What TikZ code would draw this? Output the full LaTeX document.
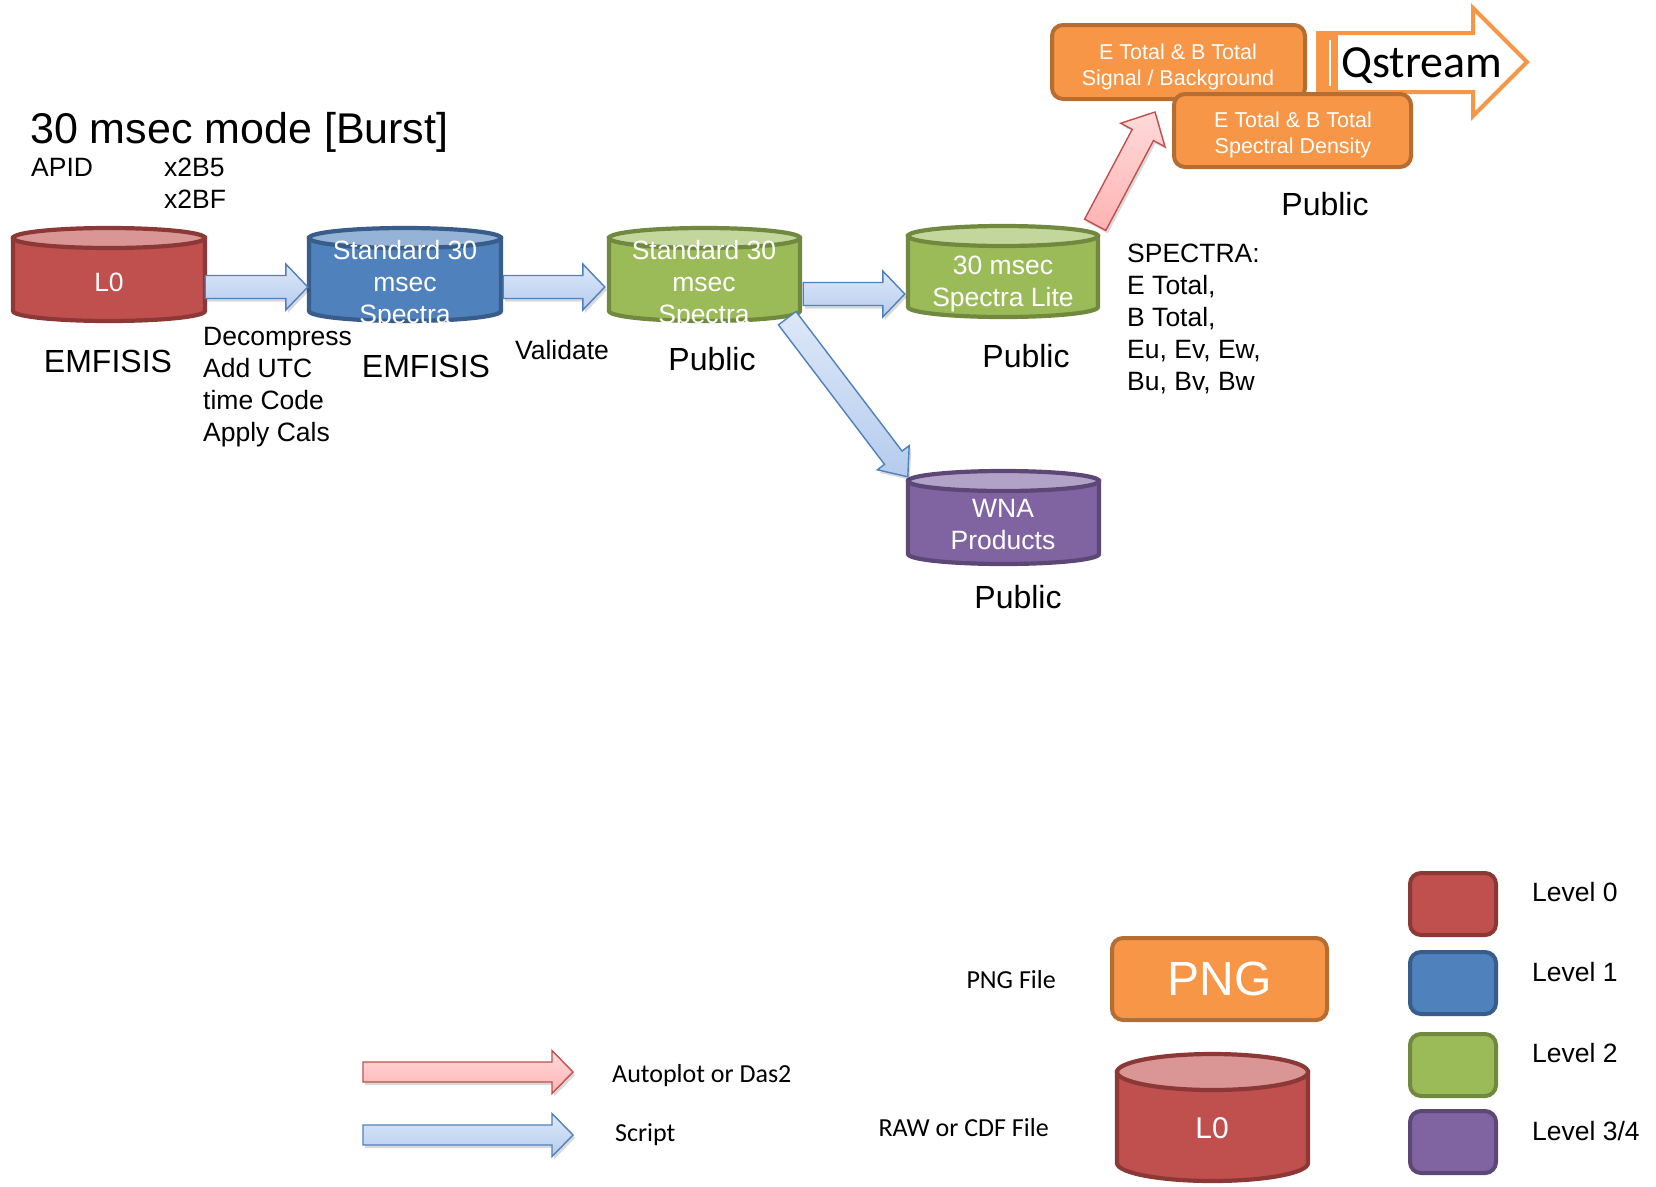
\documentclass[tikz,border=0pt]{standalone}
\usepackage{fontspec}
\setmainfont{Liberation Sans}
\newfontfamily\calfont{Carlito}
\usetikzlibrary{calc}

% level colours: fill (F), border (D), top face (T)
\definecolor{redF}{HTML}{C0504D}\definecolor{redD}{HTML}{8C3836}\definecolor{redT}{HTML}{D99694}
\definecolor{bluF}{HTML}{4F81BD}\definecolor{bluD}{HTML}{385D8A}\definecolor{bluT}{HTML}{95B3D7}
\definecolor{grnF}{HTML}{9BBB59}\definecolor{grnD}{HTML}{71893F}\definecolor{grnT}{HTML}{C3D69B}
\definecolor{purF}{HTML}{8064A2}\definecolor{purD}{HTML}{5C4776}\definecolor{purT}{HTML}{B3A2C7}
\definecolor{orgF}{HTML}{F79646}\definecolor{orgD}{HTML}{B66D31}
% arrow colours
\definecolor{sArrT}{HTML}{DDE8F8}\definecolor{sArrB}{HTML}{B5CCEE}\definecolor{sArrD}{HTML}{4F81BD}
\definecolor{pArrT}{HTML}{FFDADA}\definecolor{pArrB}{HTML}{FFB3B3}\definecolor{pArrD}{HTML}{C0504D}

% data store drawn as a cylinder: name, left, right, top, bottom, end radius, colour prefix
\newcommand{\drum}[7]{%
  \pgfmathsetmacro\dl{#2+2}\pgfmathsetmacro\dr{#3-2}%
  \pgfmathsetmacro\dt{#4+2+#6}\pgfmathsetmacro\db{#5-2-#6}%
  \pgfmathsetmacro\dcx{(#2+#3)/2}\pgfmathsetmacro\drx{(#3-#2)/2-2}%
  \filldraw[drumline, draw=#7D, fill=#7F] (\dl,\dt) -- (\dl,\db)
     arc[start angle=180, end angle=0, x radius=\drx, y radius=#6] -- (\dr,\dt) -- cycle;
  \filldraw[drumline, draw=#7D, fill=#7T] (\dcx,\dt) ellipse[x radius=\drx, y radius=#6];
  \node[inner sep=0pt, minimum width={#3-#2}, minimum height={#5-#4}] (#1) at (\dcx,{(#4+#5)/2}) {};
}

% block arrow between two named points: style, tail, tip, shaft half width, head half width, head length
\newcommand{\fatarrow}[6]{%
  \coordinate (fa-b) at ($(#3)!#6pt!(#2)$);
  \path[arrshadow] ($(#2)!#4pt!90:(#3)$) -- ($(fa-b)!#4pt!-90:(#2)$) -- ($(fa-b)!#5pt!-90:(#2)$) -- (#3)
     -- ($(fa-b)!#5pt!90:(#2)$) -- ($(fa-b)!#4pt!90:(#2)$) -- ($(#2)!#4pt!-90:(#3)$) -- cycle;
  \path[#1] ($(#2)!#4pt!90:(#3)$) -- ($(fa-b)!#4pt!-90:(#2)$) -- ($(fa-b)!#5pt!-90:(#2)$) -- (#3)
     -- ($(fa-b)!#5pt!90:(#2)$) -- ($(fa-b)!#4pt!90:(#2)$) -- ($(#2)!#4pt!-90:(#3)$) -- cycle;
}

\begin{document}
\begin{tikzpicture}[x=1pt, y=-1pt,
  drumline/.style={line width=4.2pt},
  txt/.style={inner sep=0pt, text=black},
  wtxt/.style={inner sep=0pt, text=white, align=center},
  ftitle/.style={font=\fontsize{43}{50}\selectfont},
  fbig/.style={font=\fontsize{32}{38}\selectfont},
  fmid/.style={font=\fontsize{26.5}{32}\selectfont},
  fbox/.style={font=\fontsize{21.5}{26}\selectfont},
  fcal/.style={font=\calfont\fontsize{26}{31}\selectfont},
  obox/.style={draw=orgD, fill=orgF, line width=4pt, rounded corners=11pt, inner sep=0pt},
  lvl/.style={line width=4pt, rounded corners=11pt, minimum width=86pt, minimum height=62pt, inner sep=0pt},
  arrshadow/.style={fill=black, opacity=0.15, transform canvas={shift={(2pt,-3pt)}}},
  scriptarr/.style={draw=sArrD, line width=1.4pt, top color=sArrT, bottom color=sArrB},
  plotarr/.style={draw=pArrD, line width=1.4pt, top color=pArrT, bottom color=pArrB}]

\useasboundingbox (0,0) rectangle (1656,1186);
\fill[white] (0,0) rectangle (1656,1186);

% heading
\node[txt, ftitle, anchor=base west] (title) at (30,143) {30 msec mode [Burst]};
\node[txt, fmid, anchor=west] (apid) at (31,167) {APID};
\node[txt, fmid, anchor=west, align=left] (apidv) at (164,183) {x2B5\\x2BF};

% data stores
\drum{l0}{11}{207}{226}{323}{10}{red}
\drum{b1}{307}{503}{226}{323}{10}{blu}
\drum{g1}{607}{802}{226}{323}{10}{grn}
\drum{g2}{906}{1100}{224}{319}{10}{grn}
\drum{wna}{906}{1101}{469}{566}{10}{pur}

\node[wtxt, fmid] (l0-t) at (109,282) {L0};
\node[wtxt, fmid] (b1-t) at (405,285) {Standard 30\\msec\\Spectra};
\node[wtxt, fmid] (g1-t) at (704,285) {Standard 30\\msec\\Spectra};
\node[wtxt, fmid] (g2-t) at (1003,284) {30 msec\\Spectra Lite};
\node[wtxt, fmid] (wna-t) at (1003,525) {WNA\\Products};

% labels under the stores and along the flow
\node[txt, fbig] (l0-lab) at (108,361) {EMFISIS};
\node[txt, fbig] (b1-lab) at (426,366) {EMFISIS};
\node[txt, fbig] (g1-lab) at (712,359) {Public};
\node[txt, fbig] (g2-lab) at (1026,356) {Public};
\node[txt, fbig] (wna-lab) at (1018,597) {Public};
\node[txt, fbig] (plot-lab) at (1325,204) {Public};
\node[txt, fmid, anchor=west, align=left] (proc1) at (203,387) {Decompress\\Add UTC\\time Code\\Apply Cals};
\node[txt, fmid] (proc2) at (562,350) {Validate};
\node[txt, fmid, anchor=west, align=left] (spec) at (1127,319) {SPECTRA:\\E Total,\\B Total,\\Eu, Ev, Ew,\\Bu, Bv, Bw};

% Qstream outline arrow
\path[draw=orgF, line width=4pt, fill=white] (1318,33) -- (1473,33) -- (1473,8) -- (1527,62)
   -- (1473,116) -- (1473,92) -- (1318,92) -- cycle;
\fill[orgF] (1318,31) rectangle (1338,92);
\draw[white, line width=1.2pt] (1330,40) -- (1330,86);
\node[txt, font=\calfont\fontsize{46}{54}\selectfont, anchor=base] (qs) at (1422,77) {Qstream};

% plot products
\node[obox, minimum width=253pt, minimum height=74pt] (sb) at (1178.5,62) {};
\node[wtxt, fbox] (sb-t) at (1178,67) {E Total \& B Total\\Signal / Background};
\node[obox, minimum width=237pt, minimum height=73pt] (sd) at (1292.5,130.5) {};
\node[wtxt, fbox] (sd-t) at (1293,135) {E Total \& B Total\\Spectral Density};

% processing arrows
\coordinate (a1s) at ([shift={(-2,12.5)}]l0.east);
\coordinate (a1e) at ([shift={(1,12.5)}]b1.west);
\coordinate (a2s) at ([shift={(0,12.5)}]b1.east);
\coordinate (a2e) at ([shift={(-2,12.5)}]g1.west);
\coordinate (a3s) at ([shift={(1,19.5)}]g1.east);
\coordinate (a3e) at ([shift={(-1,22.5)}]g2.west);
\coordinate (a4s) at ([shift={(-15,-5)}]g1.south east);
\coordinate (a4e) at ([shift={(2,8)}]wna.north west);
\coordinate (a5s) at ([shift={(-5,1)}]g2.north east);
\coordinate (a5e) at ([shift={(-23.5,11)}]sb.south);
\fatarrow{scriptarr}{a1s}{a1e}{11.5}{23}{22}
\fatarrow{scriptarr}{a2s}{a2e}{11.5}{23}{22}
\fatarrow{scriptarr}{a3s}{a3e}{11.5}{23}{22}
\fatarrow{scriptarr}{a4s}{a4e}{11}{20}{24}
\fatarrow{plotarr}{a5s}{a5e}{12}{25}{26}

% key: arrows
\coordinate (kp-s) at (363,1072);
\coordinate (kp-e) at (573,1072);
\coordinate (ks-s) at (363,1135);
\coordinate (ks-e) at (573,1135);
\fatarrow{plotarr}{kp-s}{kp-e}{10}{21.5}{21}
\fatarrow{scriptarr}{ks-s}{ks-e}{10}{21.5}{21}
\node[txt, fcal, anchor=base west] (kp-t) at (612,1082) {Autoplot or Das2};
\node[txt, fcal, anchor=base west] (ks-t) at (615,1141) {Script};

% key: file types
\node[txt, fcal, anchor=base east] (kpng-t) at (1056,988) {PNG File};
\node[obox, minimum width=215pt, minimum height=82pt, text=white,
      font=\fontsize{48}{56}\selectfont] (kpng) at (1219.5,979) {PNG};
\node[txt, fcal, anchor=base east] (kraw-t) at (1049,1136) {RAW or CDF File};
\drum{kraw}{1115}{1310}{1052}{1183}{18}{red}
\node[wtxt, font=\fontsize{30}{36}\selectfont] (kraw-l) at (1212,1128) {L0};

% key: levels
\node[lvl, draw=redD, fill=redF] (lv0) at (1453,904) {};
\node[lvl, draw=bluD, fill=bluF] (lv1) at (1453,983) {};
\node[lvl, draw=grnD, fill=grnF] (lv2) at (1453,1065) {};
\node[lvl, draw=purD, fill=purF] (lv3) at (1453,1142) {};
\node[txt, fmid, anchor=base west] (lv0-t) at (1532,901) {Level 0};
\node[txt, fmid, anchor=base west] (lv1-t) at (1532,981) {Level 1};
\node[txt, fmid, anchor=base west] (lv2-t) at (1532,1062) {Level 2};
\node[txt, fmid, anchor=base west] (lv3-t) at (1532,1140) {Level 3/4};
\end{tikzpicture}
\end{document}
